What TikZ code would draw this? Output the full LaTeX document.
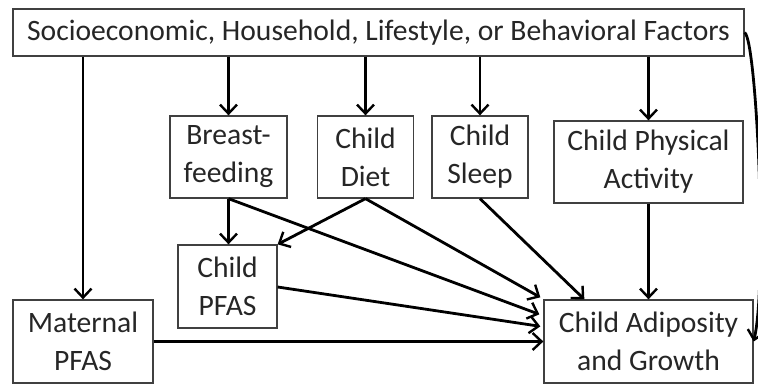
\documentclass[tikz,border=0pt]{standalone}
\usepackage{fontspec}
\setmainfont{Carlito}
\usetikzlibrary{arrows.meta,calc}
\begin{document}
\begin{tikzpicture}[x=1pt,y=-1pt,
  box/.style={draw=black!75, line width=1.3pt, align=center, inner sep=2pt, font=\fontsize{29.6}{38}\selectfont, text=black!85},
  arr/.style={line width=2.8pt, -{Straight Barb[length=9pt,width=17pt,line width=2.4pt]}}]
\useasboundingbox (0,0) rectangle (758,387);
\clip (0,0) rectangle (758,387);
\node[box, minimum width=731, minimum height=47] (top) at (378.5,32.5) {Socioeconomic, Household, Lifestyle, or Behavioral Factors};
\node[box, minimum width=117, minimum height=82] (breast) at (228.5,157) {Breast-\\feeding};
\node[box, minimum width=96, minimum height=82] (diet) at (365.5,157) {Child\\Diet};
\node[box, minimum width=96, minimum height=82] (sleep) at (480,157) {Child\\Sleep};
\node[box, minimum width=189, minimum height=82] (phys) at (648.5,162) {Child Physical\\Activity};
\node[box, minimum width=99, minimum height=83] (cpfas) at (227.5,286.5) {Child\\PFAS};
\node[box, minimum width=140, minimum height=83] (mpfas) at (83,341.5) {Maternal\\PFAS};
\node[box, minimum width=209, minimum height=83] (adip) at (648.5,341.5) {Child Adiposity\\and Growth};

\draw[arr] (top.south -| mpfas) -- (mpfas.north);
\draw[arr] (top.south -| breast) -- (breast.north);
\draw[arr] (top.south -| diet) -- (diet.north);
\draw[arr] (top.south -| sleep) -- (sleep.north);
\draw[arr] (top.south -| phys) -- (phys.north);
\draw[arr] (phys.south) -- (adip.north);
\draw[arr] (breast.south) -- (breast.south |- cpfas.north);
\draw[arr] (breast.south) -- ($(adip.north west)+(-4,15)$);
\draw[arr] (diet.south) -- (cpfas.north east);
\draw[arr] (diet.south) -- ($(adip.north west)+(-3,-2)$);
\draw[arr] (sleep.south) -- ($(adip.north west)+(41,0)$);
\draw[arr] ($(cpfas.east)+(0,0.5)$) -- ($(adip.north west)+(-3,27)$);
\draw[arr] (mpfas.east) -- (adip.west);
\draw[arr] (top.east) .. controls +(12,8) and +(14,-60) .. (adip.east);
\end{tikzpicture}
\end{document}
